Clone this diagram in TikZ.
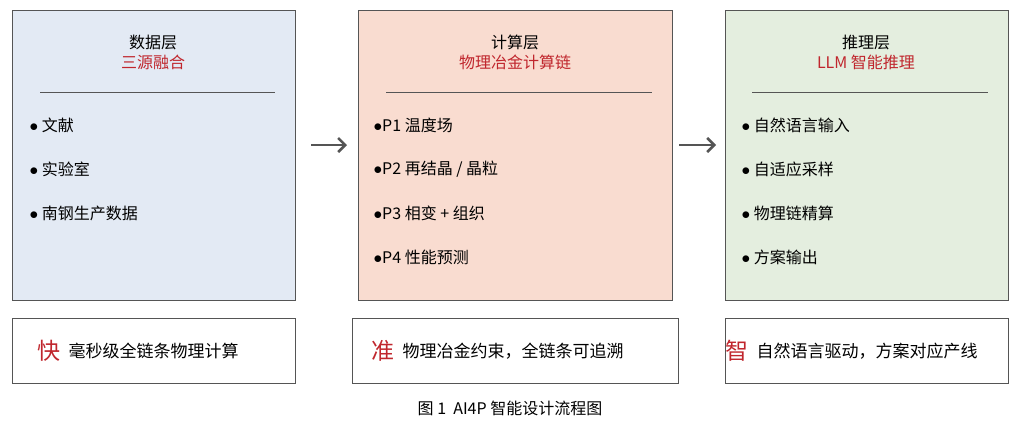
\documentclass[tikz,border=0pt]{standalone}
\usepackage{fontspec}
\setmainfont{Liberation Serif}
\newfontfamily\cjk{Noto Sans CJK SC}
\usetikzlibrary{positioning,arrows.meta}
\definecolor{datafill}{HTML}{E3EAF4}
\definecolor{calcfill}{HTML}{F9DCD0}
\definecolor{infrfill}{HTML}{E4EEDF}
\definecolor{redtext}{HTML}{C0262D}
\definecolor{edge}{HTML}{555555}
\tikzset{
  panel/.style={draw=edge,line width=0.9pt,anchor=north west,inner sep=0pt},
  head/.style={font=\cjk\fontsize{16}{19}\selectfont},
  item/.style={anchor=west,font=\cjk\fontsize{16}{19}\selectfont},
  note/.style={anchor=west,font=\cjk\fontsize{17}{20}\selectfont},
  bigchar/.style={anchor=west,font=\cjk\fontsize{23}{25}\selectfont,text=redtext},
  flow/.style={line width=2.5pt,edge,-{Straight Barb[length=7pt,width=14pt]}}
}
\begin{document}
\begin{tikzpicture}[x=1pt,y=-1pt]
  \useasboundingbox (0,0) rectangle (1021,426);

  % panels
  \node[panel,fill=datafill,minimum width=283pt,minimum height=290pt] (data) at (12,10) {};
  \node[panel,fill=calcfill,minimum width=314pt,minimum height=290pt] (calc) at (358,10) {};
  \node[panel,fill=infrfill,minimum width=283pt,minimum height=290pt] (infr) at (725,10) {};

  % data layer
  \node[head] at (153,42) {数据层};
  \node[head,text=redtext] at (153,62) {三源融合};
  \draw[edge,line width=0.8pt] (40,92) -- (275,92);
  \foreach \t [count=\i] in {文献,实验室,南钢生产数据}
    \node[item] at (26,81+44*\i) {$\bullet$\ \t};

  % calc layer
  \node[head] at (515,42) {计算层};
  \node[head,text=redtext] at (515,62) {物理冶金计算链};
  \draw[edge,line width=0.8pt] (386,92) -- (652,92);
  \foreach \t [count=\i] in {P1 温度场,P2 再结晶 / 晶粒,P3 相变 + 组织,P4 性能预测}
    \node[item] at (370,81+44*\i) {$\bullet$\t};

  % inference layer
  \node[head] at (866,42) {推理层};
  \node[head,text=redtext] at (866,62) {LLM 智能推理};
  \draw[edge,line width=0.8pt] (752,92) -- (988,92);
  \foreach \t [count=\i] in {自然语言输入,自适应采样,物理链精算,方案输出}
    \node[item] at (738,81+44*\i) {$\bullet$\ \t};

  % arrows
  \coordinate (a1) at (311,145); \coordinate (b1) at (347,145);
  \coordinate (a2) at (679,145); \coordinate (b2) at (716,145);
  \draw[flow] (a1) -- (b1);
  \draw[flow] (a2) -- (b2);

  % bottom boxes
  \node[panel,minimum width=283pt,minimum height=65pt] (fast) at (12,318) {};
  \node[panel,minimum width=326pt,minimum height=65pt] (exact) at (352,318) {};
  \node[panel,minimum width=283pt,minimum height=65pt] (smart) at (725,318) {};
  \node[bigchar] (kc) at (34,351) {快};
  \node[note,right=1pt of kc] {毫秒级全链条物理计算};
  \node[bigchar] (zc) at (368,351) {准};
  \node[note,right=1pt of zc] {物理冶金约束，全链条可追溯};
  \node[bigchar] (sc) at (722,351) {智};
  \node[note,right=1pt of sc] {自然语言驱动，方案对应产线};

  % caption
  \node[font=\cjk\fontsize{16}{19}\selectfont] at (510,408) {图 1\ \ AI4P 智能设计流程图};
\end{tikzpicture}
\end{document}
